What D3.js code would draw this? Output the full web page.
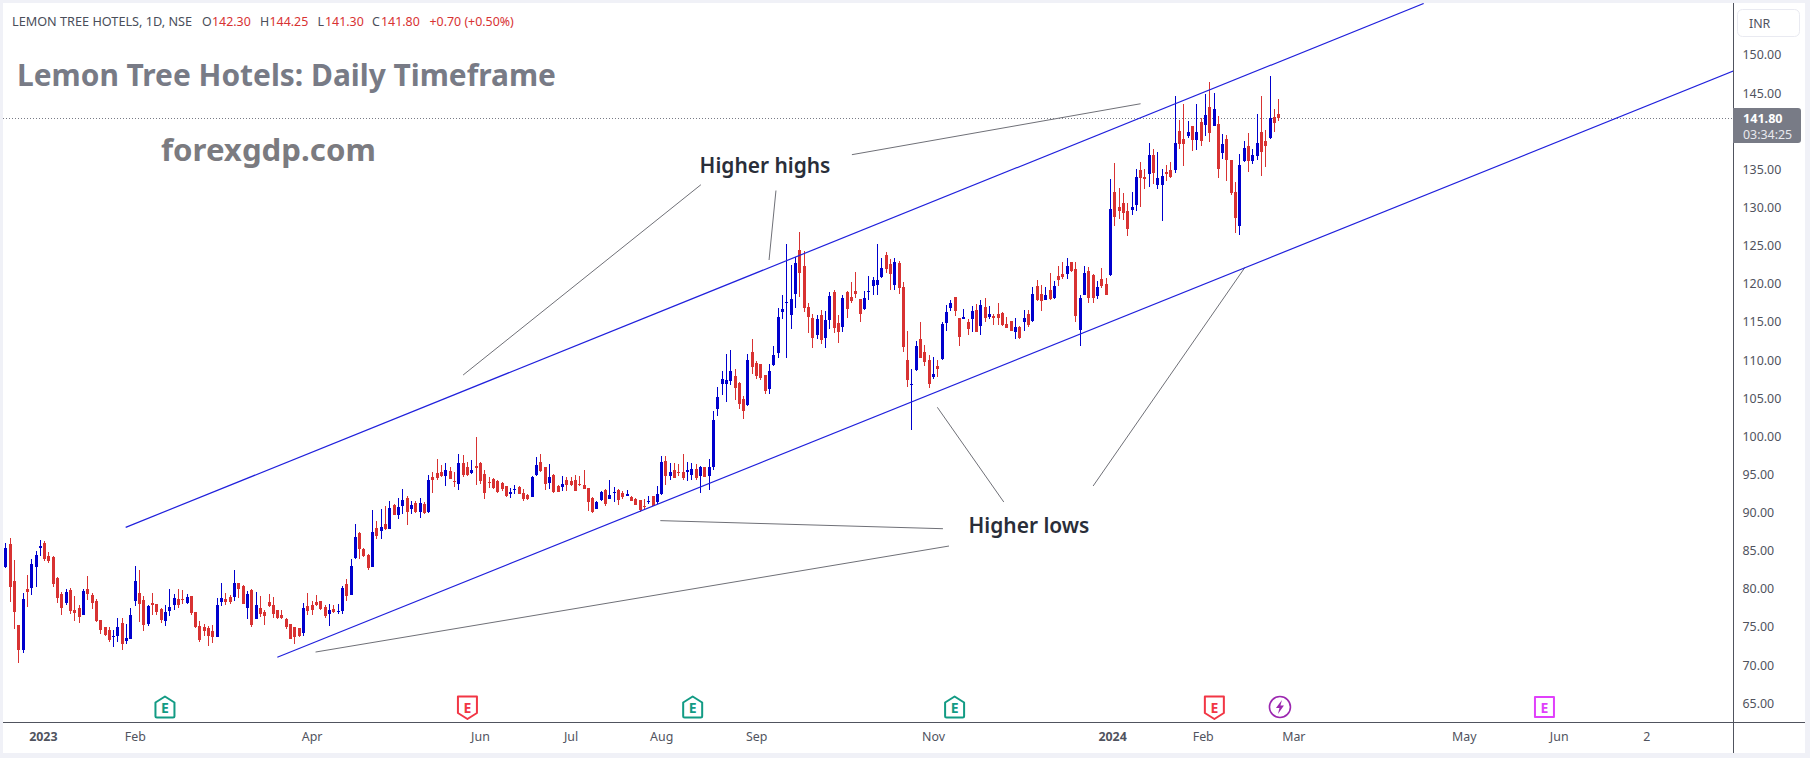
<!DOCTYPE html>
<html>
<head>
<meta charset="utf-8">
<title>Lemon Tree Hotels: Daily Timeframe</title>
<script src="https://cdn.jsdelivr.net/npm/d3@7/dist/d3.min.js"></script>
<style>
  html, body { margin: 0; padding: 0; background: #fff; }
  svg { display: block; }
</style>
</head>
<body>
<svg id="chart" width="1810" height="758"></svg>
<script>
// Daily OHLC for LEMON TREE HOTELS (NSE), one value per session.
const opens = [
  82.83,85.89,81.04,75.27,72.00,79.99,80.17,82.92,85.41,86.06,
  84.32,84.19,81.43,79.33,78.11,79.86,77.24,77.50,76.58,79.99,
  79.20,78.42,75.88,75.01,74.61,73.70,73.83,75.53,73.17,73.43,
  78.42,79.47,78.55,75.40,78.15,78.02,77.37,75.79,77.11,77.89,
  78.68,78.68,78.15,79.07,76.97,75.14,75.01,74.88,74.48,73.74,
  78.29,78.68,78.94,78.94,80.78,80.38,77.50,79.86,76.06,77.50,
  76.97,78.29,77.89,77.24,76.58,76.06,75.40,75.01,74.88,74.22,
  77.76,77.89,78.29,78.42,77.63,76.71,77.37,76.97,77.11,80.65,
  79.20,84.05,87.33,85.23,84.45,82.87,87.99,87.59,88.51,87.86,
  91.00,89.69,90.87,91.92,90.48,91.26,90.08,91.13,90.04,94.67,
  95.15,95.32,94.80,95.45,94.14,93.75,96.50,95.98,95.19,96.11,
  96.50,95.06,94.01,94.41,94.14,93.88,93.49,92.44,92.96,93.36,
  92.57,92.31,92.05,94.93,96.63,95.98,93.88,94.93,93.49,93.36,
  94.28,94.14,94.28,93.75,93.62,93.23,91.91,90.47,91.65,92.96,
  91.78,92.57,92.96,92.57,92.18,92.05,91.78,91.65,90.87,91.39,
  92.18,91.39,92.44,96.77,94.80,95.59,95.32,95.32,95.32,94.93,
  95.72,94.80,95.98,94.80,96.03,103.59,106.87,106.87,107.26,107.92,
  107.00,104.90,104.11,111.06,109.62,109.49,108.05,106.21,109.36,110.93,
  116.31,117.53,115.92,118.67,124.44,122.34,116.97,115.52,113.29,115.92,
  112.90,115.26,118.93,114.87,114.34,118.93,118.28,119.06,118.01,116.70,
  118.93,119.72,119.85,120.90,123.78,122.60,119.85,122.73,119.59,110.02,
  106.74,108.71,112.77,111.07,110.02,107.79,109.23,110.15,114.87,116.83,
  118.28,115.52,115.39,114.99,115.39,116.57,114.47,116.97,115.65,115.79,
  116.05,116.18,114.74,115.13,113.69,114.34,114.99,116.05,115.13,119.72,
  118.67,117.88,119.19,118.14,121.03,121.29,121.29,122.86,121.94,113.94,
  118.53,121.68,121.15,118.40,120.63,119.97,121.15,132.03,130.07,130.59,
  129.54,129.67,130.33,134.92,134.00,134.39,136.89,132.95,132.95,134.66,
  134.92,134.92,140.03,138.98,139.38,140.69,138.85,141.21,140.82,143.18,
  140.69,140.95,137.15,138.98,136.23,132.03,127.58,136.10,138.07,136.10,
  136.75,139.90,138.72,139.11,141.87,142.30
];
const highs = [
  85.98,86.63,83.79,75.27,79.42,81.83,83.92,84.97,86.41,86.28,
  84.80,84.32,81.52,79.55,79.99,80.08,79.07,77.89,79.99,81.69,
  79.42,78.68,75.93,75.05,75.01,74.61,76.19,76.19,75.40,77.50,
  83.01,82.48,79.07,77.85,79.42,78.02,77.46,77.89,79.99,79.33,
  79.99,79.86,79.33,79.07,76.97,75.79,75.40,75.18,75.27,78.77,
  80.78,79.42,79.20,82.48,80.78,80.51,79.73,79.99,79.60,79.07,
  77.24,79.33,78.94,77.24,77.24,76.19,75.40,75.01,74.88,78.15,
  79.47,78.42,79.20,78.42,77.89,78.02,77.89,78.02,80.38,81.30,
  83.92,88.51,87.46,85.37,84.58,90.35,88.90,90.48,90.87,91.53,
  91.13,91.92,93.10,92.18,91.53,91.53,91.92,91.40,94.94,95.32,
  96.98,96.24,96.55,96.02,95.32,97.68,97.55,96.63,96.90,99.91,
  96.63,95.59,94.67,94.54,94.28,94.01,93.49,93.23,93.62,93.49,
  93.09,92.44,94.80,97.29,97.68,95.98,96.37,95.06,93.62,94.80,
  94.67,94.67,94.93,94.80,95.59,93.23,92.05,91.52,92.83,93.09,
  94.28,93.36,93.09,92.83,92.96,92.18,91.91,91.65,91.78,92.18,
  92.18,93.49,97.42,97.42,96.50,96.50,96.37,97.68,96.63,96.50,
  96.37,96.11,95.98,97.03,103.33,106.47,108.57,110.80,111.33,108.83,
  107.13,105.29,110.80,112.77,109.88,109.49,108.05,109.49,111.85,116.83,
  118.53,125.22,122.47,123.48,126.80,124.31,117.49,116.05,115.92,116.57,
  116.44,118.93,119.19,115.92,118.54,119.06,120.24,121.55,118.01,119.06,
  121.03,120.90,125.22,123.39,124.18,123.26,123.39,122.99,120.24,113.82,
  108.84,112.51,114.98,111.98,110.67,110.41,110.02,114.98,117.23,117.88,
  118.28,115.52,116.70,115.39,117.10,117.36,117.88,118.14,117.10,116.05,
  117.49,116.31,115.65,115.13,115.52,114.47,116.57,116.57,119.59,120.51,
  119.85,119.59,121.42,120.37,122.34,122.86,123.39,122.86,122.86,118.53,
  122.33,122.20,121.28,120.37,122.07,120.76,133.74,135.84,132.56,131.90,
  130.59,132.03,135.05,135.97,135.05,138.46,137.67,137.28,135.05,135.57,
  135.97,144.62,141.47,143.57,141.34,140.69,143.57,141.74,144.88,146.46,
  145.01,142.00,139.64,139.51,136.23,133.35,137.02,138.72,139.77,137.67,
  142.26,144.62,140.16,147.24,142.92,144.25
];
const lows = [
  82.70,78.33,74.75,70.33,71.56,77.67,79.20,80.30,84.32,83.70,
  83.44,80.21,78.20,76.58,77.89,76.71,75.79,75.53,76.58,78.55,
  77.37,75.66,74.09,73.87,73.04,72.39,73.04,72.00,72.78,73.43,
  77.76,75.62,74.53,75.14,76.58,76.58,75.53,75.14,76.45,77.24,
  77.50,78.02,78.02,76.58,74.88,73.09,73.83,72.52,72.87,73.74,
  77.76,77.89,78.02,78.42,78.81,78.02,76.06,75.01,76.06,76.32,
  75.27,77.63,76.19,76.06,76.06,74.75,73.43,72.78,73.70,73.83,
  76.58,76.58,77.76,77.24,76.19,75.14,76.84,76.71,76.71,78.42,
  79.20,83.92,83.92,84.19,82.48,82.87,86.55,86.55,87.73,87.86,
  89.69,89.17,89.82,88.38,89.82,89.95,89.30,89.82,89.95,92.53,
  94.28,94.63,93.49,94.41,93.36,93.00,94.67,94.80,95.06,93.62,
  93.75,91.78,93.23,93.09,92.57,92.83,92.05,91.91,92.44,92.44,
  91.52,91.65,92.05,94.80,95.32,92.96,93.09,92.57,92.70,92.83,
  92.83,93.49,92.83,93.49,93.09,90.21,89.95,90.47,91.52,90.87,
  91.78,91.39,91.00,91.78,92.18,91.52,91.00,90.08,90.34,91.13,
  90.87,91.13,92.31,93.62,94.28,94.54,94.80,94.28,94.14,94.28,
  94.28,92.57,94.67,93.01,95.59,102.67,105.43,104.51,106.74,104.77,
  103.59,102.28,103.98,108.18,107.52,107.39,105.56,105.56,109.23,110.28,
  115.39,110.28,114.08,116.83,118.28,116.31,113.56,111.59,112.77,112.11,
  111.59,114.08,113.56,112.25,113.69,115.52,117.49,118.14,115.00,116.57,
  117.88,118.54,118.54,120.77,121.42,119.19,119.19,118.67,111.05,106.48,
  100.84,108.58,110.28,109.23,106.35,107.53,107.79,110.02,113.82,116.44,
  115.79,111.85,115.39,113.29,113.69,113.69,113.29,114.99,115.39,114.61,
  114.61,114.47,114.21,113.82,112.77,112.77,113.82,114.34,114.99,117.75,
  116.44,117.88,117.88,118.01,119.72,120.64,120.64,121.55,114.99,111.85,
  118.53,117.48,117.48,118.01,119.45,118.53,121.02,127.58,128.50,128.36,
  126.27,129.02,129.54,130.07,132.43,132.69,133.08,132.43,128.23,133.48,
  133.87,134.53,137.67,135.44,139.11,137.41,137.54,138.07,139.38,138.59,
  140.69,133.87,136.36,133.48,131.64,126.66,126.40,135.97,134.66,135.71,
  136.23,134.13,135.31,138.98,139.90,141.30
];
const closes = [
  85.32,80.30,77.02,72.00,78.68,79.60,83.27,84.45,85.63,83.92,
  83.66,80.65,78.85,77.50,79.60,77.11,76.84,76.32,79.73,79.33,
  78.15,75.79,74.61,73.96,73.30,73.83,75.01,72.78,73.57,76.58,
  81.04,78.02,75.27,77.76,77.89,76.97,75.93,76.97,77.63,78.81,
  77.89,78.55,78.94,76.84,75.01,73.30,74.48,73.83,73.70,77.89,
  78.81,78.29,78.29,80.78,79.99,78.02,79.33,75.27,77.89,76.71,
  76.45,77.76,76.71,76.19,76.19,75.01,73.43,73.70,73.83,77.50,
  77.11,77.24,77.89,77.37,76.45,77.24,76.97,77.11,80.12,79.07,
  83.01,86.81,85.23,84.32,82.74,87.46,86.94,88.12,87.86,90.61,
  89.69,90.74,91.66,90.08,91.00,90.08,91.26,89.95,94.28,94.28,
  94.58,94.80,95.54,94.41,94.01,96.50,94.93,94.93,95.59,95.85,
  94.14,92.57,93.88,93.23,92.70,93.09,92.18,92.70,93.09,92.44,
  91.78,91.78,94.67,96.24,95.45,93.75,94.67,92.70,92.70,93.75,
  93.62,93.62,92.83,93.62,93.09,91.39,90.08,91.39,92.70,91.13,
  92.31,92.70,91.65,92.05,92.44,91.52,91.00,90.34,90.73,91.52,
  90.87,92.44,96.63,94.80,95.32,94.54,95.19,94.54,95.59,95.72,
  94.54,95.98,94.67,95.98,102.15,105.16,107.52,107.39,108.57,106.34,
  104.24,103.33,110.01,109.10,107.92,107.65,105.95,108.57,110.67,115.65,
  116.70,117.62,118.01,122.73,121.42,116.83,115.65,112.90,115.39,112.64,
  115.26,118.41,114.21,113.69,118.14,116.70,117.75,118.67,116.05,118.14,
  119.06,120.51,120.51,122.08,121.95,121.29,122.86,119.46,111.72,107.39,
  106.87,111.85,110.28,109.75,106.87,108.18,108.84,114.74,116.31,117.49,
  116.44,113.03,115.65,114.08,116.44,113.69,117.23,115.52,116.05,115.52,
  115.52,114.61,114.21,113.82,114.34,112.90,115.52,114.61,118.67,117.88,
  117.75,118.54,118.01,119.72,120.50,120.90,122.34,121.68,115.78,118.14,
  121.42,118.14,118.14,119.58,119.71,118.53,129.81,128.76,129.54,129.28,
  127.18,130.07,134.00,133.87,133.74,136.89,134.53,133.87,134.13,134.39,
  134.00,138.46,138.33,138.33,139.90,138.85,139.90,138.72,142.13,139.77,
  142.92,135.05,138.33,136.23,131.90,128.63,135.57,137.80,136.10,136.89,
  138.46,137.28,138.07,141.74,141.10,141.80
];

// Price axis levels; the 140 level sits behind the last price badge and is left out.
const priceTicks = [65,70,75,80,85,90,95,100,105,110,115,120,125,130,135,145,150];

// Time axis: session index and label; years are emphasised.
const timeTickIndex = [8.7, 30, 71, 110, 131, 152, 174, 215, 256.5, 277.5, 298.5, 338, 360, 380.3];
const timeTickLabel = ["2023","Feb","Apr","Jun","Jul","Aug","Sep","Nov","2024","Feb","Mar","May","Jun","2"];

// Channel lines as [session index, price] endpoints.
const channelUpper = [[27.9, 88.07], [328.7, 156.75]];
const channelLower = [[63.04, 71.03], [400.5, 147.9]];

// Thin pointer lines leading from the annotations to the swing points.
const pointerLines = [
  [[106.1, 108.04], [161.2, 132.99]],
  [[178.6, 132.23], [177.0, 123.12]],
  [[196.2, 136.93], [263.1, 143.61]],
  [[216.0, 103.81], [231.4, 91.39]],
  [[252.1, 93.49], [287.3, 122.16]],
  [[151.8, 88.95], [217.3, 87.89]],
  [[71.9, 71.72], [218.7, 85.62]]
];

// Calendar markers above the time axis.
const eventIndex = [37, 107.1, 159.3, 220, 280.2, 295.4, 356.7];
const eventKind = ["earnUp","earnDown","earnUp","earnUp","earnDown","bolt","earnNext"];

const lastPrice = closes[closes.length - 1];

const W = 1810, H = 758;
const plot = { left: 3, top: 3, right: 1733, bottom: 722, outerRight: 1805, outerBottom: 753 };

const UP = "#0000cd", DOWN = "#d83232", MUTED = "#787b86", AXIS = "#50535e", TEXT = "#50535e";
const SANS = "'Noto Sans', sans-serif";

const svg = d3.select("#chart");

// Session index to x, price to y.
const x = d3.scaleLinear().domain([0, 295]).range([5.3, 5.3 + 295 * 4.315]);
const y = d3.scaleLinear().domain([150, 65]).range([55, 703.3]);

// Window frame and plot background.
svg.append("rect").attr("width", W).attr("height", H).attr("fill", "#f0f1f7");
svg.append("rect").attr("x", plot.left).attr("y", plot.top)
  .attr("width", plot.outerRight - plot.left).attr("height", plot.outerBottom - plot.top)
  .attr("fill", "#fff");

svg.append("defs").append("clipPath").attr("id", "plot-clip").append("rect")
  .attr("x", plot.left).attr("y", plot.top)
  .attr("width", plot.right - plot.left).attr("height", plot.bottom - plot.top);

const plotG = svg.append("g").attr("clip-path", "url(#plot-clip)");

// Last price line.
plotG.append("line")
  .attr("x1", plot.left).attr("x2", plot.right)
  .attr("y1", Math.round(y(lastPrice)) + 0.5).attr("y2", Math.round(y(lastPrice)) + 0.5)
  .attr("stroke", MUTED).attr("stroke-dasharray", "1 2");

// Candles: one wick and one body per session.
const sessions = d3.range(opens.length);
const candle = plotG.append("g").attr("shape-rendering", "crispEdges")
  .selectAll("g").data(sessions).join("g")
  .attr("fill", i => closes[i] >= opens[i] ? UP : DOWN);

candle.append("rect")
  .attr("x", i => Math.round(x(i)))
  .attr("width", 1)
  .attr("y", i => y(highs[i]))
  .attr("height", i => Math.max(1, y(lows[i]) - y(highs[i])));

candle.append("rect")
  .attr("x", i => Math.round(x(i)) - 1)
  .attr("width", 3)
  .attr("y", i => y(Math.max(opens[i], closes[i])))
  .attr("height", i => Math.max(1, Math.abs(y(opens[i]) - y(closes[i]))));

const seg = d3.line().x(d => x(d[0])).y(d => y(d[1]));

// Pointer lines, then the two channel boundaries on top.
plotG.append("g").selectAll("path").data(pointerLines).join("path")
  .attr("d", seg).attr("fill", "none").attr("stroke", "#6f7077").attr("stroke-width", 1);

plotG.append("g").selectAll("path").data([channelUpper, channelLower]).join("path")
  .attr("d", seg).attr("fill", "none").attr("stroke", "#2020dc").attr("stroke-width", 1.2);

// Calendar markers.
const eventColor = { earnUp: "#129b84", earnDown: "#f23645", earnNext: "#e040fb", bolt: "#9c27b0" };
const eventShape = {
  earnUp: "M-9.5,-4.5 L0,-10.5 L9.5,-4.5 V9 Q9.5,10.5 8,10.5 H-8 Q-9.5,10.5 -9.5,9 Z",
  earnDown: "M-9.5,-10.5 H9.5 V6 L0,12 L-9.5,6 Z",
  earnNext: "M-9.5,-10 H9.5 V10 H-9.5 Z"
};
const marker = svg.append("g").selectAll("g").data(eventIndex).join("g")
  .attr("transform", d => `translate(${x(d)},707)`);
marker.each(function (d, i) {
  const g = d3.select(this), kind = eventKind[i], col = eventColor[kind];
  if (kind === "bolt") {
    g.append("circle").attr("r", 10.5).attr("fill", "#fff").attr("stroke", col).attr("stroke-width", 1.6);
    g.append("path").attr("d", "M2,-7 L-4,1 H-0.5 L-2,7 L4,-1.5 H0.5 Z").attr("fill", col);
  } else {
    g.append("path").attr("d", eventShape[kind]).attr("fill", "#fff")
      .attr("stroke", col).attr("stroke-width", 2).attr("stroke-linejoin", "round");
    g.append("text").text("E").attr("text-anchor", "middle").attr("y", 5.5)
      .attr("font-family", SANS).attr("font-weight", 700).attr("font-size", 14).attr("fill", col);
  }
});

// Axis rules.
svg.append("g").attr("stroke", AXIS).attr("shape-rendering", "crispEdges").call(g => {
  g.append("line").attr("x1", plot.right + 0.5).attr("x2", plot.right + 0.5).attr("y1", plot.top).attr("y2", plot.outerBottom);
  g.append("line").attr("x1", plot.left).attr("x2", plot.outerRight).attr("y1", plot.bottom + 0.5).attr("y2", plot.bottom + 0.5);
});

// Price axis.
const yAxis = svg.append("g").attr("transform", `translate(${plot.right},0)`)
  .call(d3.axisRight(y).tickValues(priceTicks).tickSize(0).tickPadding(9.5).tickFormat(d3.format(".2f")));
yAxis.select(".domain").remove();
yAxis.selectAll("text").attr("font-family", SANS).attr("font-size", 12.4).attr("fill", TEXT);

// Time axis.
const xAxis = svg.append("g").attr("transform", `translate(0,${plot.bottom})`)
  .call(d3.axisBottom(x).tickValues(timeTickIndex).tickSize(0).tickPadding(10)
    .tickFormat((d, i) => timeTickLabel[i]));
xAxis.select(".domain").remove();
xAxis.selectAll("text").attr("font-family", SANS).attr("font-size", 12.4).attr("fill", TEXT)
  .attr("font-weight", (d, i) => /^\d{4}$/.test(timeTickLabel[i]) ? 700 : 400);

// Currency badge.
svg.append("rect").attr("x", 1737.5).attr("y", 9.5).attr("width", 62).attr("height", 27).attr("rx", 5)
  .attr("fill", "#fff").attr("stroke", "#e9eaf1");
svg.append("text").text("INR").attr("x", 1749).attr("y", 27.5)
  .attr("font-family", SANS).attr("font-size", 12.4).attr("fill", TEXT);

// Last price badge with the countdown to the close.
svg.append("path").attr("d", "M1733,108 H1798 Q1801,108 1801,111 V140 Q1801,143 1798,143 H1733 Z").attr("fill", MUTED);
svg.append("text").text(d3.format(".2f")(lastPrice)).attr("x", 1743).attr("y", 122.5)
  .attr("font-family", SANS).attr("font-size", 12.6).attr("font-weight", 700).attr("fill", "#fff");
svg.append("text").text("03:34:25").attr("x", 1743).attr("y", 138.5)
  .attr("font-family", SANS).attr("font-size", 12.4).attr("fill", "#e8e9ee");

// Legend row: name, then the last session's values.
const legendParts = [
  ["LEMON TREE HOTELS, 1D, NSE", 12, "#4a4e5a", 12.7],
  ["O", 202, "#4a4e5a", 12.4], ["142.30", 212, DOWN, 12.4],
  ["H", 260, "#4a4e5a", 12.4], ["144.25", 269.5, DOWN, 12.4],
  ["L", 317.5, "#4a4e5a", 12.4], ["141.30", 325, DOWN, 12.4],
  ["C", 372, "#4a4e5a", 12.4], ["141.80", 381, DOWN, 12.4],
  ["+0.70 (+0.50%)", 429.5, DOWN, 12.4]
];
svg.append("g").selectAll("text").data(legendParts).join("text")
  .text(d => d[0]).attr("x", d => d[1]).attr("y", 25.5).attr("fill", d => d[2])
  .attr("font-family", SANS).attr("font-size", d => d[3]);

// Chart title and site name.
svg.append("text").text("Lemon Tree Hotels: Daily Timeframe").attr("x", 17).attr("y", 86)
  .attr("font-family", SANS).attr("font-weight", 700).attr("font-size", 29.9).attr("fill", MUTED);
svg.append("text").text("forexgdp.com").attr("x", 161).attr("y", 161)
  .attr("font-family", SANS).attr("font-weight", 700).attr("font-size", 31.2).attr("fill", "#7b7b80");

// Annotation captions.
svg.append("text").text("Higher highs").attr("x", 765).attr("y", 173).attr("text-anchor", "middle")
  .attr("font-family", SANS).attr("font-weight", 600).attr("font-size", 20.9).attr("fill", "#2a2e39");
svg.append("text").text("Higher lows").attr("x", 1029).attr("y", 533).attr("text-anchor", "middle")
  .attr("font-family", SANS).attr("font-weight", 600).attr("font-size", 20.9).attr("fill", "#2a2e39");
</script>
</body>
</html>
